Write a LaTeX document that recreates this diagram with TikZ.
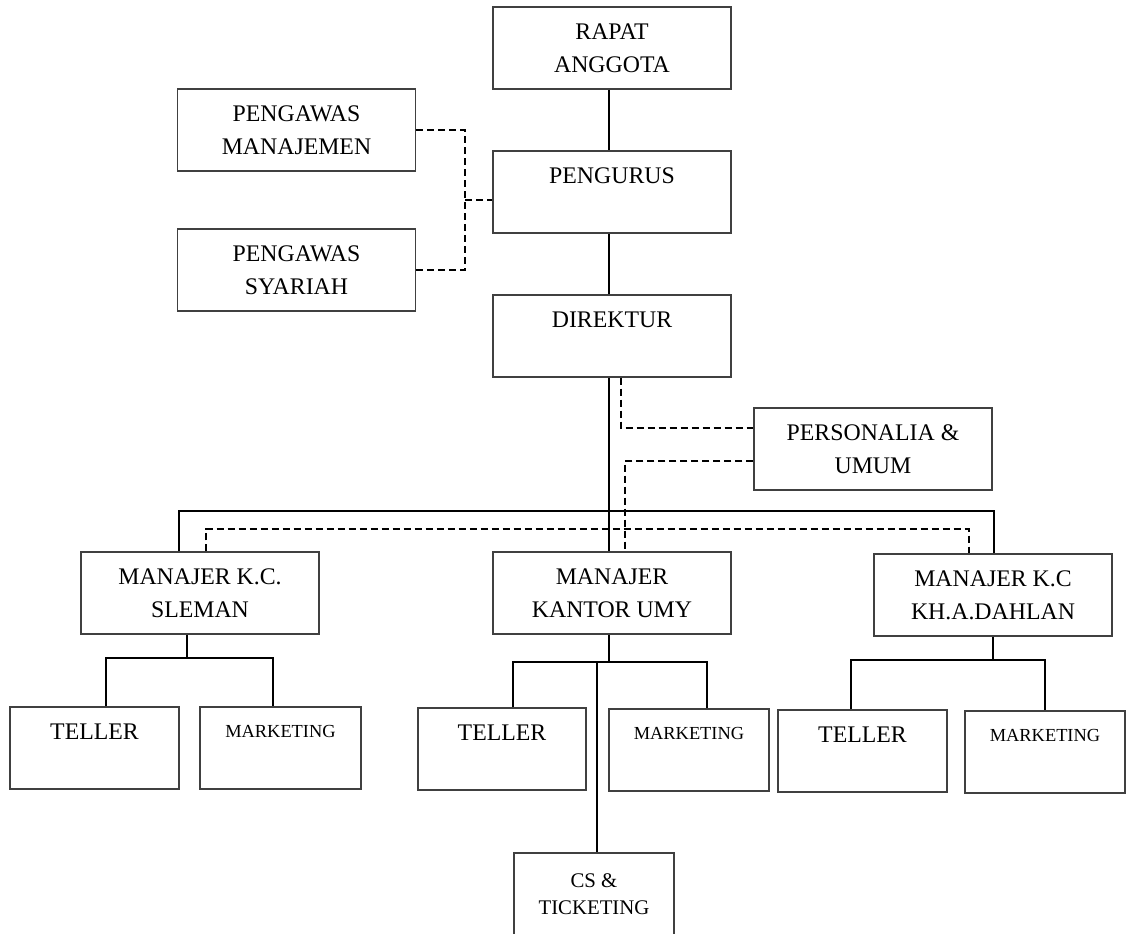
\documentclass[tikz,border=0pt]{standalone}
\usepackage{fontspec}
\setmainfont{Liberation Serif}

\begin{document}
\begin{tikzpicture}[x=0.5pt,y=-0.5pt]
\tikzstyle{box}=[draw=black!75,line width=0.6pt,minimum width=119pt,minimum height=41pt,inner sep=0pt,align=center,font=\fontsize{11.9}{16.4}\selectfont]
\tikzstyle{link}=[line width=1pt]
\tikzstyle{dlink}=[line width=1pt,dash pattern=on 3.5pt off 2pt]
\useasboundingbox (0,0) rectangle (1126,933);
\node[box] (rapat) at (612,48) {RAPAT\\ ANGGOTA};
\node[box] (pengurus) at (612,192) {PENGURUS\\ \mbox{}};
\node[box] (direktur) at (612,336) {DIREKTUR\\ \mbox{}};
\node[box] (pwm) at (296.5,130) {PENGAWAS\\ MANAJEMEN};
\node[box] (pws) at (296.5,270) {PENGAWAS\\ SYARIAH};
\node[box] (pers) at (873,449) {PERSONALIA \&\\ UMUM};
\node[box] (sleman) at (200,593) {MANAJER K.C.\\ SLEMAN};
\node[box] (umy) at (612,593) {MANAJER\\ KANTOR UMY};
\node[box] (kh) at (993,595) {MANAJER K.C\\ KH.A.DAHLAN};
\node[box,minimum width=84.5pt] (tel1) at (94.5,748) {TELLER\\ \mbox{}};
\node[box,minimum width=80.5pt] (mk1) at (280.5,748) {{\fontsize{9.2}{16.4}\selectfont MARKETING}\\ \mbox{}};
\node[box,minimum width=84pt] (tel2) at (502,749) {TELLER\\ \mbox{}};
\node[box,minimum width=80pt] (mk2) at (689,750) {{\fontsize{9.2}{16.4}\selectfont MARKETING}\\ \mbox{}};
\node[box,minimum width=84.5pt] (tel3) at (862.5,751) {TELLER\\ \mbox{}};
\node[box,minimum width=80pt] (mk3) at (1045,752) {{\fontsize{9.2}{16.4}\selectfont MARKETING}\\ \mbox{}};
\node[box,minimum width=80pt,font=\fontsize{10.4}{13.7}\selectfont] (cs) at (594,894) {CS \&\\ TICKETING};
\coordinate (trunk) at (609,510.5);
\coordinate (busL) at (179,510.5);
\coordinate (busR) at (994,510.5);
\draw[link] (rapat.south -| trunk) -- (pengurus.north -| trunk);
\draw[link] (pengurus.south -| trunk) -- (direktur.north -| trunk);
\draw[link] (direktur.south -| trunk) -- (umy.north -| trunk);
\draw[link] (sleman.north -| busL) -- (busL) -- (busR) -- (kh.north -| busR);
\coordinate (pw) at (465,200);
\draw[dlink] (pwm.east) -| (pws.east -| pw) -- (pws.east);
\draw[dlink] (pw) -- (pw -| pengurus.west);
\coordinate (pa) at (621,428);
\coordinate (pb) at (625,461);
\draw[dlink] (direktur.south -| pa) |- (pers.west |- pa);
\draw[dlink] (pers.west |- pb) -| (umy.north -| pb);
\coordinate (dbL) at (206,529);
\coordinate (dbR) at (969,529);
\draw[dlink] (sleman.north -| dbL) -- (dbL) -- (dbR) -- (kh.north -| dbR);
\coordinate (s1) at (187,658);
\coordinate (s1L) at (106,658);
\coordinate (s1R) at (273,658);
\draw[link] (sleman.south -| s1) -- (s1);
\draw[link] (tel1.north -| s1L) -- (s1L) -- (s1R) -- (mk1.north -| s1R);
\coordinate (s2) at (609,661.5);
\coordinate (s2L) at (512.5,661.5);
\coordinate (s2R) at (706.5,661.5);
\coordinate (s2c) at (597,661.5);
\draw[link] (umy.south -| s2) -- (s2);
\draw[link] (tel2.north -| s2L) -- (s2L) -- (s2R) -- (mk2.north -| s2R);
\draw[link] (s2c) -- (cs.north -| s2c);
\coordinate (s3) at (993,660);
\coordinate (s3L) at (851,660);
\coordinate (s3R) at (1045,660);
\draw[link] (kh.south -| s3) -- (s3);
\draw[link] (tel3.north -| s3L) -- (s3L) -- (s3R) -- (mk3.north -| s3R);
\end{tikzpicture}
\end{document}
